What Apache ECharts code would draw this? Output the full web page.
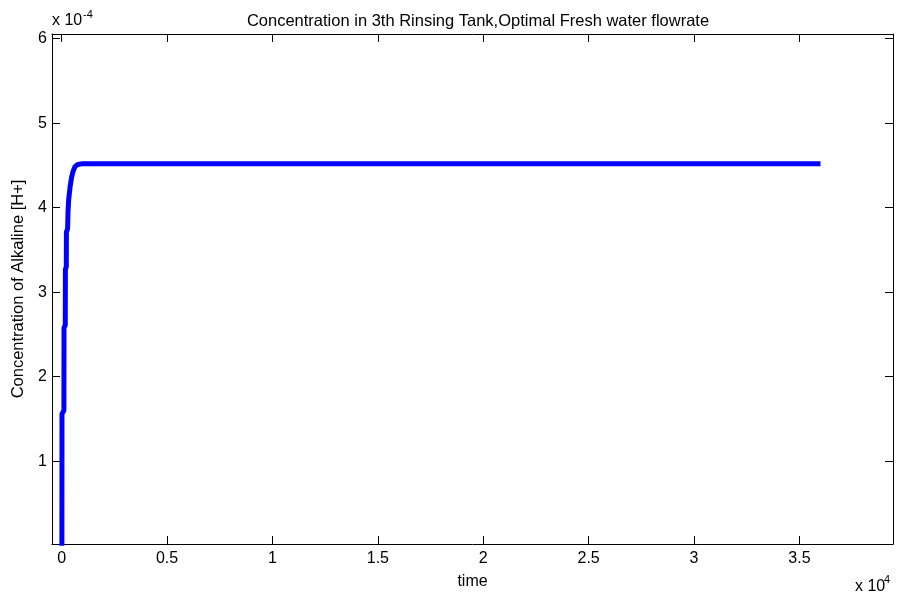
<!DOCTYPE html>
<html>
<head>
<meta charset="utf-8">
<script src="https://cdn.jsdelivr.net/npm/echarts@6/dist/echarts.min.js"></script>
<style>html,body{margin:0;padding:0;background:#fff}#c{width:897px;height:595px}</style>
</head>
<body>
<div id="c"></div>
<script>
// time (s) and concentration (units of 1e-4)
const timeValues = [10, 14, 105, 110, 170, 176, 218, 224, 280, 300, 330, 400, 470, 540, 620, 720, 850, 1000, 36000];
const concValues = [0, 1.56, 1.6, 2.58, 2.61, 3.27, 3.3, 3.71, 3.75, 3.95, 4.09, 4.25, 4.36, 4.43, 4.48, 4.505, 4.515, 4.52, 4.52];
const xTicks = [0, 5000, 10000, 15000, 20000, 25000, 30000, 35000];
const yTicks = [1, 2, 3, 4, 5, 6];

const font = 'Liberation Sans, Arial, sans-serif';
const chart = echarts.init(document.getElementById('c'));
const data = timeValues.map((t, i) => [t, concValues[i]]);
const xMin = -460, xMax = 39440, yMin = 0.02, yMax = 6.055;
const lineStyle = { color: '#000', width: 1 };
const FS = 16;

chart.setOption({
  animation: false,
  backgroundColor: '#fff',
  title: {
    text: 'Concentration in 3th Rinsing Tank,Optimal Fresh water flowrate',
    left: 473, top: 8, textAlign: 'center',
    textStyle: { fontFamily: font, fontSize: 16.5, fontWeight: 'normal', color: '#000' }
  },
  grid: { left: 52, right: 4, top: 34, bottom: 51, containLabel: false },
  xAxis: [{
    type: 'value', min: xMin, max: xMax, position: 'bottom',
    name: 'time', nameLocation: 'middle', nameGap: 30,
    nameTextStyle: { fontFamily: font, fontSize: FS, color: '#000' },
    axisLine: { show: true, onZero: false, lineStyle },
    axisTick: { show: true, inside: true, length: 8, customValues: xTicks, lineStyle },
    axisLabel: { customValues: xTicks, formatter: v => String(v / 10000), fontFamily: font, fontSize: FS, color: '#000', margin: 7 },
    splitLine: { show: false }
  }, {
    type: 'value', min: xMin, max: xMax, position: 'top',
    axisLine: { show: true, onZero: false, lineStyle },
    axisTick: { show: true, inside: true, length: 8, customValues: xTicks, lineStyle },
    axisLabel: { show: false }, splitLine: { show: false }
  }],
  yAxis: [{
    type: 'value', min: yMin, max: yMax, position: 'left',
    name: 'Concentration of Alkaline [H+]', nameLocation: 'middle', nameGap: 25,
    nameTextStyle: { fontFamily: font, fontSize: 16.5, color: '#000' },
    axisLine: { show: true, onZero: false, lineStyle },
    axisTick: { show: true, inside: true, length: 8, customValues: yTicks, lineStyle },
    axisLabel: { customValues: yTicks, fontFamily: font, fontSize: FS, color: '#000', margin: 5 },
    splitLine: { show: false }
  }, {
    type: 'value', min: yMin, max: yMax, position: 'right',
    axisLine: { show: true, onZero: false, lineStyle },
    axisTick: { show: true, inside: true, length: 8, customValues: yTicks, lineStyle },
    axisLabel: { show: false }, splitLine: { show: false }
  }],
  series: [{
    type: 'line', xAxisIndex: 0, yAxisIndex: 0, data: data,
    showSymbol: false, smooth: false, clip: true,
    lineStyle: { color: '#0000ff', width: 5 }
  }],
  graphic: [
    { type: 'text', x: 52, y: 21, style: { text: 'x 10', font: FS + 'px ' + font, fill: '#000', verticalAlign: 'middle' } },
    { type: 'text', x: 83, y: 15, style: { text: '-4', font: '11px ' + font, fill: '#000', verticalAlign: 'middle' } },
    { type: 'text', x: 855, y: 587, style: { text: 'x 10', font: FS + 'px ' + font, fill: '#000', verticalAlign: 'middle' } },
    { type: 'text', x: 884, y: 580, style: { text: '4', font: '11px ' + font, fill: '#000', verticalAlign: 'middle' } }
  ]
});
</script>
</body>
</html>
